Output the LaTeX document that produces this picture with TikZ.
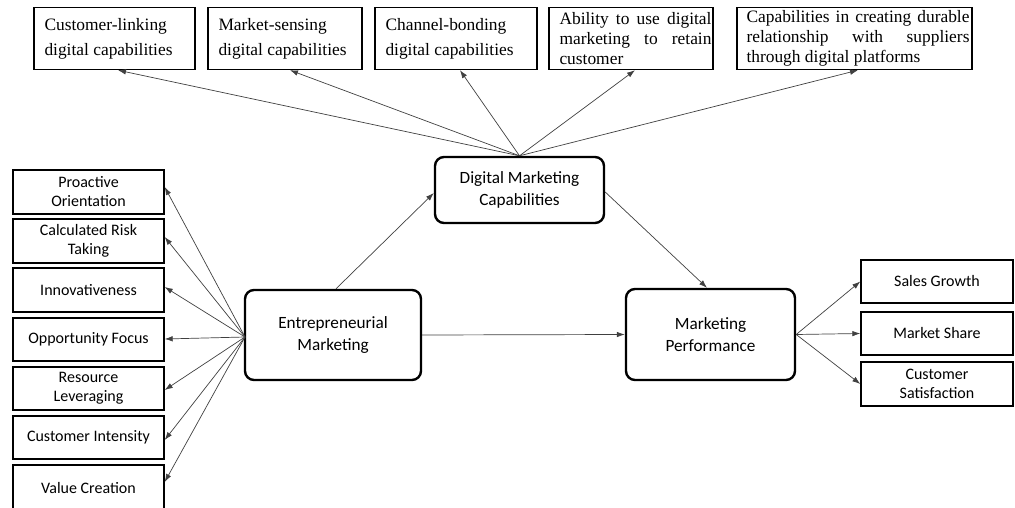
\documentclass[tikz,border=0pt]{standalone}
\usepackage{fontspec}
\setmainfont{Carlito}
\newfontfamily\tnr{Liberation Serif}
\usetikzlibrary{arrows.meta}
\tikzset{
  x=1pt, y=-1pt,
  topbox/.style={draw, line width=1.4pt, inner sep=0pt},
  toptext/.style={anchor=west, inner sep=0pt, align=left, font=\tnr\fontsize{17.4}{25}\selectfont},
  toptextb/.style={anchor=west, inner sep=0pt, align=left, font=\tnr\fontsize{17.4}{20}\selectfont},
  dimbox/.style={draw, line width=1.4pt, inner sep=0pt, minimum width=151pt, align=center, font=\fontsize{16}{19}\selectfont},
  rbox/.style={dimbox, minimum width=152pt},
  mainbox/.style={draw, line width=2.4pt, rounded corners=9pt, inner sep=0pt, align=center, font=\fontsize{17.2}{22}\selectfont},
  conn/.style={draw=black!75, line width=0.7pt, -{Latex[length=8pt,width=5.5pt]}},
}
\begin{document}
\begin{tikzpicture}
\useasboundingbox (0,0) rectangle (1015,508);
% top boxes
\node[topbox, minimum width=161pt, minimum height=62pt] (t1) at (114.5,38.5) {};
\node[toptext] (t1x) at ([xshift=11pt,yshift=0pt]t1.west) {Customer-linking\\digital capabilities};
\node[topbox, minimum width=154pt, minimum height=62pt] (t2) at (285,38.5) {};
\node[toptext] (t2x) at ([xshift=11pt,yshift=0pt]t2.west) {Market-sensing\\digital capabilities};
\node[topbox, minimum width=162pt, minimum height=62pt] (t3) at (456,38.5) {};
\node[toptext] (t3x) at ([xshift=11pt,yshift=0pt]t3.west) {Channel-bonding\\digital capabilities};
\node[topbox, minimum width=164pt, minimum height=62pt] (t4) at (631,38.5) {};
\node[toptextb] (t4x) at ([xshift=11pt,yshift=0pt]t4.west) {\hbox to 152pt{Ability\hfill to\hfill use\hfill digital}\\\hbox to 152pt{marketing\hfill to\hfill retain}\\customer};
\node[topbox, minimum width=235pt, minimum height=62pt] (t5) at (854.5,38.5) {};
\node[toptextb] (t5x) at ([xshift=10pt,yshift=0pt]t5.west) {\hbox to 223pt{Capabilities\hfill in\hfill creating\hfill durable}\\\hbox to 223pt{relationship\hfill with\hfill suppliers}\\through digital\ platforms};
% main boxes
\node[mainbox, minimum width=169pt, minimum height=66pt] (dmc) at (519.5,190) {Digital Marketing\\Capabilities};
\node[mainbox, minimum width=176pt, minimum height=90pt] (em) at (333,335) {Entrepreneurial\\Marketing};
\node[mainbox, minimum width=169pt, minimum height=91pt] (mp) at (710.5,334.5) {Marketing\\Performance};
% left boxes
\node[dimbox, minimum height=44pt] (l1) at (88.5,192) {Proactive\\Orientation};
\node[dimbox, minimum height=44pt] (l2) at (88.5,241) {Calculated Risk\\Taking};
\node[dimbox, minimum height=44pt] (l3) at (88.5,290) {Innovativeness};
\node[dimbox, minimum height=43pt] (l4) at (88.5,339.5) {Opportunity Focus};
\node[dimbox, minimum height=43pt] (l5) at (88.5,388.5) {Resource\\Leveraging};
\node[dimbox, minimum height=43pt] (l6) at (88.5,437.5) {Customer Intensity};
\node[dimbox, minimum height=46pt] (l7) at (88.5,488) {Value Creation};
% right boxes
\node[rbox, minimum height=43pt] (r1) at (937,281.5) {Sales Growth};
\node[rbox, minimum height=43pt] (r2) at (937,333.5) {Market Share};
\node[rbox, minimum height=44pt] (r3) at (937,384) {Customer\\Satisfaction};
% coordinates
\coordinate (emsrc) at (245,337);
% top arrows
\draw[conn] (dmc.north) -- ([xshift=3.5pt]t1.south);
\draw[conn] (dmc.north) -- ([xshift=5pt]t2.south);
\draw[conn] (dmc.north) -- ([xshift=4pt]t3.south);
\draw[conn] (dmc.north) -- ([xshift=4pt]t4.south);
\draw[conn] (dmc.north) -- ([xshift=3.5pt]t5.south);
% left arrows
\draw[conn] (emsrc) -- ([yshift=5pt]l1.east);
\draw[conn] (emsrc) -- ([yshift=4pt]l2.east);
\draw[conn] (emsrc) -- ([yshift=3pt]l3.east);
\draw[conn] (emsrc) -- ([yshift=0.5pt]l4.east);
\draw[conn] (emsrc) -- ([yshift=-1.5pt]l5.east);
\draw[conn] (emsrc) -- ([yshift=-2.5pt]l6.east);
\draw[conn] (emsrc) -- ([yshift=6pt]l7.east);
% main arrows
\draw[conn] ([xshift=3pt]em.north) -- ([yshift=-3pt]dmc.west);
\draw[conn] ([yshift=-2pt]dmc.east) -- ([xshift=-3.5pt]mp.north);
\draw[conn] (em.east) -- (mp.west);
% right arrows
\draw[conn] (mp.east) -- (r1.west);
\draw[conn] (mp.east) -- (r2.west);
\draw[conn] (mp.east) -- (r3.west);
\end{tikzpicture}
\end{document}
